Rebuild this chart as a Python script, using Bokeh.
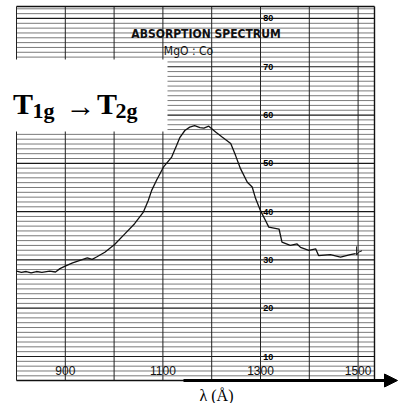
from bokeh.plotting import figure
from bokeh.models import Range1d, Arrow, NormalHead
from bokeh.core.properties import value
from bokeh.embed import file_html
from bokeh.resources import INLINE

# ---------------- data ----------------
wavelength = [800, 810, 820, 830, 841, 852, 868, 880, 889, 902, 915, 930, 945,
              955, 964, 981, 1001, 1022, 1042, 1060, 1070, 1077, 1087, 1101,
              1118, 1128, 1135, 1145, 1155, 1165, 1176, 1184, 1194, 1208, 1222,
              1239, 1249, 1259, 1273, 1283, 1290, 1300, 1310, 1317, 1338, 1344,
              1361, 1375, 1382, 1399, 1413, 1419, 1443, 1464, 1484, 1495]
absorption = [27.7, 27.4, 27.6, 27.3, 27.6, 27.4, 27.7, 27.5, 28.2, 28.8, 29.4,
              29.9, 30.4, 30.1, 30.6, 31.6, 33.2, 35.4, 37.5, 39.9, 42.3, 44.4,
              46.5, 49.2, 51.3, 53.7, 55.4, 56.8, 57.5, 57.8, 57.4, 57.3, 57.7,
              56.5, 55.4, 54.1, 51.6, 48.9, 46.1, 45.1, 42.7, 40.2, 38.2, 36.8,
              36.4, 33.7, 33.0, 33.3, 32.6, 32.0, 32.3, 30.9, 31.1, 30.6, 31.1,
              31.3]
end_mark_x = [1497, 1497, 1501, 1508]
end_mark_y = [32.8, 31.0, 31.6, 31.9]

x_ticks = [800, 900, 1000, 1100, 1200, 1300, 1400, 1500]
x_tick_labels = ["900", "1100", "1300", "1500"]
x_label_values = [900, 1100, 1300, 1500]
y_label_values = [10, 20, 30, 40, 50, 60, 70, 80]
y_labels = ["10", "20", "30", "40", "50", "60", "70", "80"]
y_minor = list(range(6, 83))

# ---------------- geometry of the chart paper ----------------
PX_PER_A = 0.488     # pixels per angstrom
PX_PER_U = 4.829     # pixels per absorption unit


def px2x(px):
    return 800 + (px - 16) / PX_PER_A


def py2y(py):
    return 10 + (356 - py) / PX_PER_U


X_MIN, X_MAX = 800, px2x(374)
Y_MIN, Y_MAX = py2y(380), py2y(6)

W, H = 398, 403
p = figure(width=W, height=H, output_backend="svg", toolbar_location=None,
           x_range=Range1d(px2x(0), px2x(W)),
           y_range=Range1d(py2y(H), py2y(0)),
           x_axis_location=None, y_axis_location=None, min_border=0,
           outline_line_color=None, background_fill_color="white",
           border_fill_color="white")
p.grid.visible = False

# horizontal ruling
minor = [v for v in y_minor if v % 10 != 0]
major = [v for v in y_minor if v % 10 == 0]
p.segment(x0=[X_MIN] * len(minor), x1=[X_MAX] * len(minor), y0=minor, y1=minor,
          line_color="#7a7a7a", line_width=1)
p.segment(x0=[X_MIN] * len(major), x1=[X_MAX] * len(major), y0=major, y1=major,
          line_color="#1a1a1a", line_width=1.2)
# vertical ruling
p.segment(x0=x_ticks, x1=x_ticks, y0=[Y_MIN] * len(x_ticks), y1=[Y_MAX] * len(x_ticks),
          line_color="#222222", line_width=1)
# paper edges
p.segment(x0=[X_MAX, X_MIN, X_MIN], x1=[X_MAX, X_MAX, X_MAX],
          y0=[Y_MIN, Y_MIN, Y_MAX], y1=[Y_MAX, Y_MIN, Y_MAX],
          line_color="#111111", line_width=1.4)

# scale numbers printed on the paper
p.text(x=[1316] * len(y_labels), y=y_label_values, text=y_labels,
       text_font=value("Liberation Sans"), text_font_size="9px",
       text_font_style="bold", text_align="center", text_baseline="middle",
       text_color="#000000")
p.text(x=x_label_values, y=[py2y(370)] * len(x_label_values), text=x_tick_labels,
       text_font=value("Liberation Sans"), text_font_size="12px",
       text_align="center", text_baseline="alphabetic", text_color="#111111")

# titles on the paper
p.text(x=[px2x(205.5)], y=[py2y(33)], text=["ABSORPTION SPECTRUM"],
       text_font=value("DejaVu Sans Condensed"), text_font_size="12px",
       text_font_style="bold", text_align="center", text_baseline="alphabetic",
       text_color="#111111")
p.text(x=[px2x(188)], y=[py2y(50)], text=["MgO : Co"],
       text_font=value("DejaVu Sans Condensed"), text_font_size="12px",
       text_align="center", text_baseline="alphabetic", text_color="#111111")

# the spectrum trace
p.line(wavelength, absorption, line_color="#111111", line_width=1.3)
p.line(end_mark_x, end_mark_y, line_color="#111111", line_width=1)

# white label box with transition
p.quad(left=[px2x(0)], right=[px2x(167)], top=[py2y(59)], bottom=[py2y(131)],
       fill_color="white", line_color=None)
serif = value("Liberation Serif")
p.text(x=[px2x(12.5), px2x(96.5)], y=[py2y(103)] * 2, text=["T", "T"],
       text_font=serif, text_font_size="30px", text_font_style="bold",
       text_align="left", text_baseline="alphabetic", text_color="black")
p.text(x=[px2x(32), px2x(115)], y=[py2y(110)] * 2, text=["1g", "2g"],
       text_font=serif, text_font_size="22px", text_font_style="bold",
       text_align="left", text_baseline="alphabetic", text_color="black")
p.text(x=[px2x(65)], y=[py2y(105)], text=["\u2192"],
       text_font=serif, text_font_size="30px",
       text_align="left", text_baseline="alphabetic", text_color="black")

# axis arrow and label
p.add_layout(Arrow(end=NormalHead(size=13, fill_color="black", line_color="black"),
                   x_start=px2x(183), y_start=Y_MIN, x_end=px2x(397), y_end=Y_MIN,
                   line_color="black", line_width=3))
p.text(x=[px2x(216)], y=[py2y(395)], text=["\u03bb (\u00c5)"],
       text_font=serif, text_font_size="16px",
       text_align="center", text_baseline="alphabetic", text_color="black")

open("out.html", "w").write(file_html(p, INLINE))
